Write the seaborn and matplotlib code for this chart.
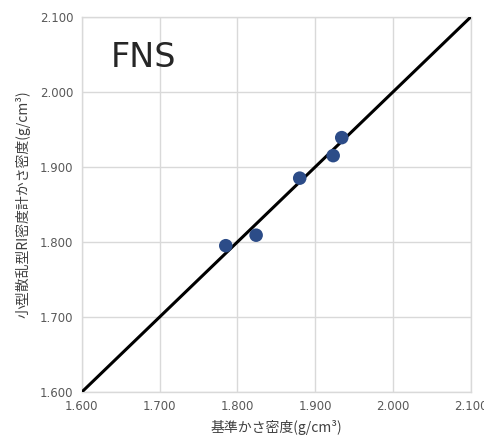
import matplotlib
matplotlib.use("Agg")
import matplotlib.pyplot as plt
import seaborn as sns
import pandas as pd

# Reference bulk density vs. small scattering-type RI density gauge bulk density
reference_density = [1.785, 1.824, 1.880, 1.923, 1.934]
gauge_density = [1.795, 1.809, 1.885, 1.915, 1.939]
equality_line = [1.600, 2.100]
tick_values = [1.600, 1.700, 1.800, 1.900, 2.000, 2.100]
tick_labels = ["1.600", "1.700", "1.800", "1.900", "2.000", "2.100"]

sns.set_theme(style="white")
plt.rcParams["font.family"] = ["DejaVu Sans", "Noto Sans CJK JP"]

fig = plt.figure(figsize=(4.84, 4.42), dpi=100)
ax = fig.add_axes([0.169, 0.113, 0.804, 0.849])

line_df = pd.DataFrame({"x": equality_line, "y": equality_line})
sns.lineplot(data=line_df, x="x", y="y", ax=ax, color="black", linewidth=2.2, zorder=3)

pts = pd.DataFrame({"x": reference_density, "y": gauge_density})
sns.scatterplot(data=pts, x="x", y="y", ax=ax, color="#2C4C88", s=95,
                edgecolor="none", zorder=4)

ax.set_xlim(1.6, 2.1)
ax.set_ylim(1.6, 2.1)
ax.set_xticks(tick_values)
ax.set_xticklabels(tick_labels)
ax.set_yticks(tick_values)
ax.set_yticklabels(tick_labels)
ax.grid(True, color="#d9d9d9", linewidth=1.0)
ax.set_axisbelow(True)
for side, sp in ax.spines.items():
    sp.set_color("#d9d9d9")
    sp.set_linewidth(1.0)
ax.tick_params(axis="both", length=0, labelsize=8.5, colors="#595959", pad=6)

ax.set_xlabel("基準かさ密度(g/cm³)", fontsize=10, color="#404040",
              family=["Noto Sans CJK JP", "DejaVu Sans"], labelpad=5)
ax.set_ylabel("小型散乱型RI密度計かさ密度(g/cm³)", fontsize=10, color="#404040",
              family=["Noto Sans CJK JP", "DejaVu Sans"], labelpad=7)

ax.text(0.075, 0.935, "FNS", transform=ax.transAxes, fontsize=24,
        color="#262626", va="top", ha="left")

fig.savefig("out.png", dpi=100)
